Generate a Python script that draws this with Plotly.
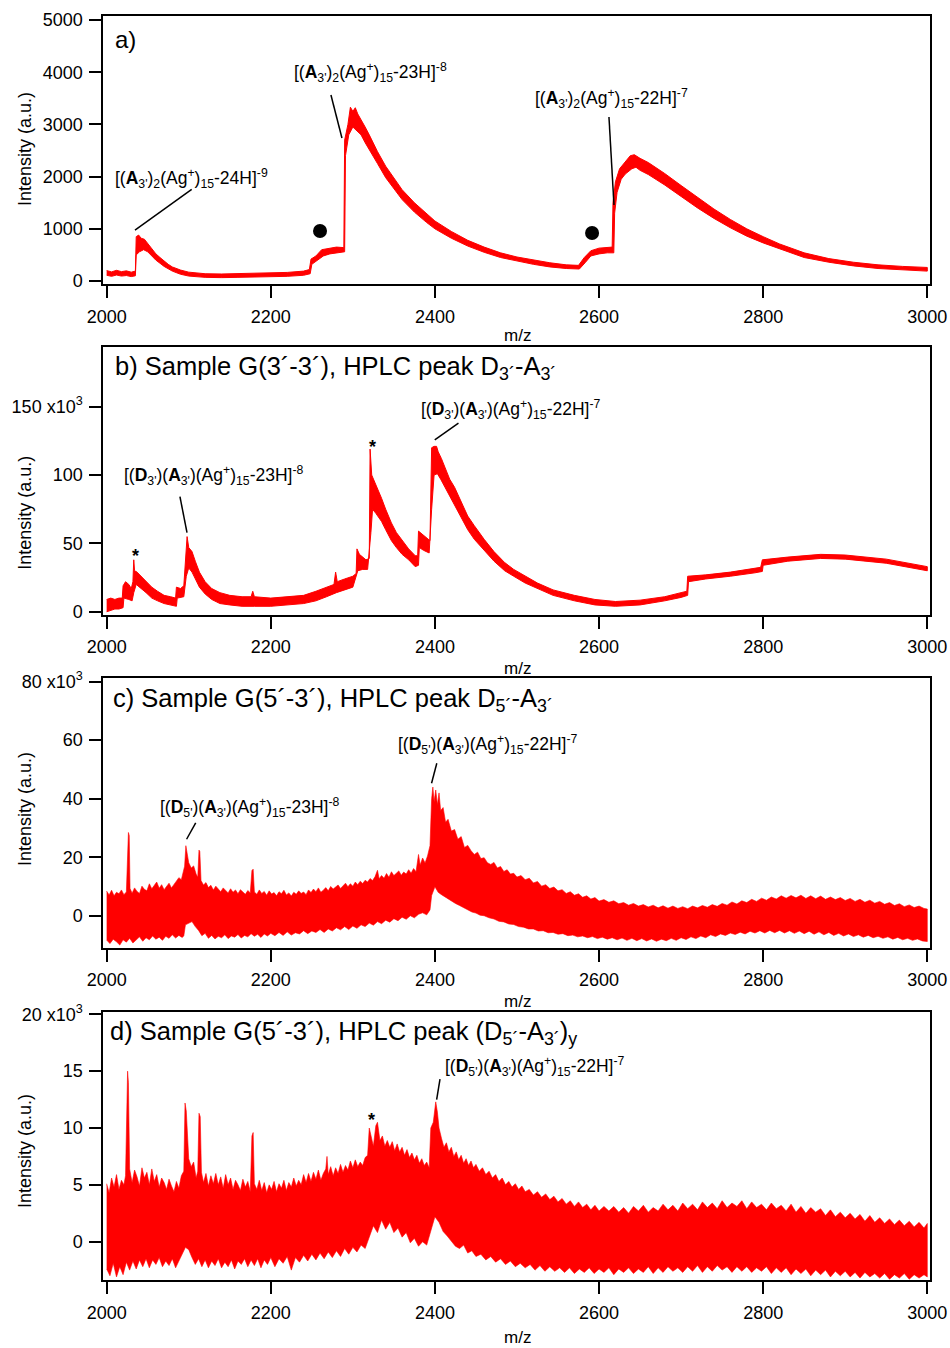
import plotly.graph_objects as go

W, H = 950, 1348
RED = "#ff0000"
FONT = "Liberation Sans, Arial, Helvetica, sans-serif"


def px_x(px):
    return px / W


def px_y(py):
    return 1 - py / H


# ---------------- data (envelopes of the red spectral traces) ----------------
# Panel a (counts)
a_hi_x = [2000, 2006, 2012, 2018, 2024, 2030, 2035, 2036, 2039, 2042, 2046, 2050, 2055, 2060, 2065, 2070, 2075, 2080,
          2090, 2100, 2120, 2140, 2160, 2180, 2200, 2220, 2240, 2247, 2249, 2255, 2262, 2270, 2280, 2289, 2290, 2294,
          2297, 2300, 2303, 2306, 2310, 2315, 2320, 2330, 2340, 2350, 2360, 2375, 2390, 2400, 2420, 2440, 2460, 2480,
          2500, 2520, 2540, 2560, 2575, 2582, 2590, 2600, 2610, 2616, 2617, 2620, 2625, 2630, 2638, 2643, 2650, 2660,
          2680, 2700, 2720, 2740, 2760, 2780, 2800, 2820, 2850, 2880, 2910, 2940, 2970, 3000]
a_hi_y = [200, 175, 205, 180, 195, 170, 190, 850, 880, 820, 800, 720, 620, 520, 450, 380, 320, 270,
          210, 170, 140, 135, 140, 145, 150, 165, 190, 220, 420, 480, 600, 620, 650, 640, 2700, 3000,
          3330, 3250, 3320, 3200, 3100, 2950, 2800, 2480, 2200, 1980, 1750, 1500, 1280, 1150, 950, 780, 650, 540,
          460, 400, 350, 310, 300, 450, 580, 630, 650, 650, 1500, 1900, 2150, 2250, 2400, 2420, 2350, 2270,
          2060, 1830, 1600, 1380, 1180, 1000, 850, 710, 540, 430, 360, 310, 280, 260]
a_lo_x = [2000, 2006, 2012, 2018, 2024, 2030, 2035, 2036, 2040, 2045, 2050, 2055, 2060, 2065, 2070, 2075, 2080, 2090,
          2100, 2120, 2140, 2160, 2180, 2200, 2220, 2240, 2248, 2250, 2256, 2264, 2272, 2282, 2290, 2291, 2295, 2300,
          2304, 2310, 2315, 2320, 2330, 2340, 2350, 2360, 2375, 2390, 2400, 2420, 2440, 2460, 2480, 2500, 2520, 2540,
          2560, 2576, 2583, 2590, 2600, 2610, 2618, 2619, 2622, 2627, 2632, 2640, 2645, 2650, 2660, 2680, 2700, 2720,
          2740, 2760, 2780, 2800, 2820, 2850, 2880, 2910, 2940, 2970, 3000]
a_lo_y = [110, 90, 115, 95, 105, 85, 100, 500, 560, 600, 560, 480, 400, 340, 280, 230, 190, 130,
          95, 70, 65, 70, 75, 80, 90, 110, 140, 320, 380, 480, 520, 540, 560, 2400, 2800, 2950,
          2900, 2800, 2650, 2500, 2250, 1980, 1780, 1560, 1320, 1120, 1000, 820, 670, 550, 450, 380, 320, 270,
          240, 230, 350, 480, 520, 540, 540, 1300, 1700, 1950, 2050, 2150, 2180, 2120, 2040, 1840, 1620, 1400,
          1200, 1020, 860, 730, 610, 450, 360, 290, 240, 210, 190]

# Panel b (x10^3)
b_hi_x = [2000, 2005, 2010, 2015, 2019, 2020, 2023, 2027, 2030, 2032, 2033, 2034, 2037, 2042, 2048, 2055, 2062, 2070,
          2078, 2084, 2085, 2090, 2094, 2096, 2098, 2100, 2104, 2108, 2113, 2120, 2128, 2138, 2150, 2165, 2176, 2178,
          2180, 2200, 2220, 2240, 2255, 2268, 2277, 2279, 2281, 2290, 2300, 2304, 2305, 2308, 2312, 2316, 2320, 2321,
          2323, 2326, 2330, 2335, 2340, 2347, 2353, 2360, 2368, 2376, 2379, 2380, 2384, 2389, 2394, 2396, 2399, 2402,
          2404, 2408, 2412, 2418, 2424, 2432, 2440, 2448, 2460, 2472, 2485, 2496, 2510, 2525, 2544, 2570, 2595, 2620,
          2650, 2680, 2700, 2707, 2708, 2730, 2760, 2790, 2797, 2799, 2830, 2870, 2900, 2950, 3000]
b_hi_y = [9, 10, 9, 10, 10, 19, 22, 20, 17, 22, 38, 30, 29, 26, 22, 18, 15, 12,
          11, 10, 18, 17, 19, 35, 55, 47, 44, 37, 29, 22, 17, 14, 12, 11, 11, 15,
          11, 10, 11, 12, 15, 18, 20, 29, 22, 24, 26, 28, 46, 42, 40, 38, 39, 119,
          100, 96, 90, 83, 75, 65, 58, 52, 46, 41, 41, 59, 57, 54, 52, 120, 121, 121,
          117, 112, 106, 97, 91, 80, 70, 63, 53, 44, 36, 31, 26, 21, 16, 12, 9, 7.5,
          8.5, 11, 14, 15, 26, 27, 29, 31.5, 32.5, 38, 40, 42, 41.5, 38.5, 33]
b_lo_x = [2000, 2005, 2010, 2015, 2020, 2021, 2027, 2031, 2033, 2036, 2042, 2048, 2055, 2062, 2070, 2078, 2085, 2086,
          2094, 2097, 2100, 2104, 2108, 2113, 2120, 2128, 2138, 2150, 2165, 2180, 2200, 2220, 2240, 2255, 2268, 2280,
          2290, 2300, 2306, 2312, 2318, 2322, 2324, 2328, 2335, 2340, 2347, 2353, 2360, 2368, 2376, 2380, 2381, 2386,
          2393, 2396, 2399, 2403, 2407, 2412, 2418, 2424, 2432, 2440, 2448, 2460, 2472, 2485, 2496, 2510, 2525, 2544,
          2570, 2595, 2620, 2650, 2680, 2700, 2708, 2709, 2730, 2760, 2790, 2799, 2800, 2830, 2870, 2900, 2950, 3000]
b_lo_y = [0, 1, 2, 2, 3, 10, 9, 8, 14, 20, 17, 14, 10, 8, 6, 5, 4, 10,
          11, 26, 32, 29, 24, 18, 13, 9, 6, 5, 4, 4, 4, 5, 6, 8, 11, 14,
          16, 18, 30, 31, 31, 58, 75, 72, 66, 60, 52, 47, 42, 38, 33, 34, 47, 45,
          43, 75, 100, 101, 97, 92, 85, 79, 69, 60, 53, 45, 37, 30, 26, 21, 17, 12,
          8, 5, 4, 5, 8, 10.5, 12, 22, 24, 26, 28.5, 29.5, 34, 37, 39, 38.5, 35.5, 30]

# Panel c (x10^3)
c_hi_x = [2000, 2003, 2006, 2009, 2012, 2015, 2018, 2021, 2024, 2025.5, 2026.5, 2027.5, 2028.5, 2031, 2034, 2037,
          2040, 2043, 2046, 2049, 2052, 2055, 2058, 2061, 2064, 2067, 2070, 2073, 2076, 2079, 2082, 2085, 2088, 2091,
          2093, 2095, 2096.5, 2098, 2100, 2103, 2106, 2109, 2111, 2112.5, 2113.5, 2115, 2118, 2121, 2124, 2127, 2130,
          2133, 2136, 2139, 2142, 2145, 2148, 2151, 2154, 2157, 2160, 2163, 2166, 2169, 2172, 2175, 2177, 2178.5,
          2180, 2183, 2186, 2189, 2192, 2195, 2198, 2201, 2204, 2207, 2210, 2213, 2216, 2219, 2222, 2225, 2228, 2231,
          2234, 2237, 2240, 2243, 2246, 2249, 2252, 2255, 2258, 2261, 2264, 2267, 2270, 2273, 2276, 2279, 2282, 2285,
          2288, 2291, 2294, 2297, 2300, 2303, 2306, 2309, 2312, 2315, 2318, 2321, 2324, 2327, 2330, 2332, 2335, 2338,
          2341, 2344, 2347, 2350, 2353, 2356, 2359, 2362, 2365, 2368, 2371, 2374, 2377, 2380, 2382, 2385, 2388, 2391,
          2394, 2396, 2397.5, 2399, 2401, 2403, 2405, 2407, 2410, 2413, 2416, 2420, 2424, 2428, 2432, 2436, 2440, 2444,
          2448, 2452, 2456, 2460, 2464, 2468, 2472, 2476, 2480, 2484, 2488, 2492, 2496, 2500, 2505, 2510, 2515, 2520,
          2525, 2530, 2535, 2540, 2545, 2550, 2555, 2560, 2565, 2570, 2575, 2580, 2585, 2590, 2595, 2600, 2606, 2612,
          2618, 2624, 2630, 2636, 2642, 2648, 2654, 2660, 2666, 2672, 2678, 2684, 2690, 2696, 2702, 2708, 2714, 2720,
          2726, 2732, 2738, 2744, 2750, 2756, 2762, 2768, 2774, 2780, 2786, 2792, 2798, 2804, 2810, 2816, 2822, 2828,
          2834, 2840, 2846, 2852, 2858, 2864, 2870, 2876, 2882, 2888, 2894, 2900, 2906, 2912, 2918, 2924, 2930, 2936,
          2942, 2948, 2954, 2960, 2966, 2972, 2978, 2984, 2990, 2996, 3000]
c_hi_y = [8.5, 7.2, 8.8, 6.9, 8.1, 7.6, 8.9, 7.3, 8.2, 27, 28.5, 27.5, 9.4, 7.8, 9.6, 8.4,
          7.7, 10.2, 9.1, 8.6, 11.0, 9.3, 10.4, 11.6, 9.5, 10.7, 9.0, 10.1, 11.2, 9.6, 10.8, 12.3, 13.1, 12.4,
          14.6, 17, 24, 22, 18.2, 16.4, 17.1, 14.3, 13.2, 22.5, 22, 12.1, 10.6, 11.4, 9.7, 10.5, 8.9,
          10.2, 9.1, 8.3, 9.6, 8.8, 7.9, 9.3, 8.1, 8.9, 7.6, 9.0, 8.2, 7.4, 8.7, 7.9, 15.5, 16,
          8.2, 7.4, 8.9, 7.7, 8.4, 7.1, 8.6, 7.5, 8.0, 6.9, 8.3, 7.6, 8.8, 7.2, 7.9, 6.8, 8.1, 7.4,
          8.6, 7.7, 8.2, 7.3, 8.9, 8.0, 9.2, 8.3, 9.6, 8.1, 8.8, 9.7, 8.6, 10.1, 9.2, 9.9, 10.6, 9.4,
          10.3, 11.2, 10.0, 11.0, 10.2, 11.6, 10.7, 11.9, 11.1, 12.2, 11.6, 12.8, 12.1, 13.4, 15.6, 12.7, 13.8, 12.9,
          14.5, 13.2, 15.1, 13.8, 14.6, 15.4, 13.9, 15.0, 14.3, 15.8, 14.6, 16.2, 15.1, 21, 17.4, 19.8, 18.1, 20.5,
          24, 40, 44, 39, 43, 38, 42, 36, 37, 32, 33, 29, 29.5, 26.2, 27.1, 23.4, 24.1, 22.3,
          21.0, 21.8, 19.6, 19.9, 18.2, 17.6, 18.3, 16.4, 16.9, 15.2, 15.8, 14.3, 14.6, 13.3, 13.8, 12.4, 12.9, 11.3,
          11.8, 10.2, 10.7, 9.4, 9.9, 8.6, 9.0, 7.7, 8.3, 7.1, 7.6, 6.4, 6.9, 5.8, 6.3, 5.1, 5.6, 4.7,
          5.2, 4.2, 4.6, 3.7, 4.3, 3.4, 3.9, 3.1, 3.7, 2.8, 3.5, 2.7, 3.4, 2.6, 3.2, 2.5, 3.4, 2.8,
          3.6, 3.0, 3.9, 3.3, 4.3, 3.7, 4.8, 4.1, 5.2, 4.6, 5.7, 5.0, 6.1, 5.4, 6.5, 5.8, 6.9, 6.1,
          7.0, 6.2, 7.1, 6.0, 6.9, 5.9, 6.8, 5.7, 6.5, 5.6, 6.3, 5.3, 6.0, 5.0, 5.7, 4.7, 5.4, 4.4,
          5.0, 4.0, 4.6, 3.6, 4.2, 3.2, 3.8, 2.9, 3.4, 2.6, 2.4]
c_lo_x = [2000, 2004, 2008, 2012, 2016, 2020, 2024, 2028, 2032, 2036, 2040, 2044, 2048, 2052, 2056, 2060, 2064, 2068,
          2072, 2076, 2080, 2084, 2088, 2092, 2094, 2096, 2100, 2104, 2108, 2112, 2116, 2120, 2124, 2128, 2132, 2136,
          2140, 2144, 2148, 2152, 2156, 2160, 2164, 2168, 2172, 2176, 2180, 2184, 2188, 2192, 2196, 2200, 2205, 2210,
          2215, 2220, 2225, 2230, 2235, 2240, 2245, 2250, 2255, 2260, 2265, 2270, 2275, 2280, 2285, 2290, 2295, 2300,
          2305, 2310, 2315, 2320, 2325, 2330, 2335, 2340, 2345, 2350, 2355, 2360, 2365, 2370, 2375, 2380, 2385, 2390,
          2394, 2396, 2400, 2404, 2408, 2412, 2416, 2420, 2425, 2430, 2435, 2440, 2445, 2450, 2455, 2460, 2466, 2472,
          2478, 2484, 2490, 2496, 2502, 2508, 2514, 2520, 2526, 2532, 2538, 2544, 2550, 2556, 2562, 2568, 2574, 2580,
          2586, 2592, 2598, 2604, 2610, 2616, 2622, 2628, 2634, 2640, 2646, 2652, 2658, 2664, 2670, 2676, 2682, 2688,
          2694, 2700, 2706, 2712, 2718, 2724, 2730, 2736, 2742, 2748, 2754, 2760, 2766, 2772, 2778, 2784, 2790, 2796,
          2802, 2808, 2814, 2820, 2826, 2832, 2838, 2844, 2850, 2856, 2862, 2868, 2874, 2880, 2886, 2892, 2898, 2904,
          2910, 2916, 2922, 2928, 2934, 2940, 2946, 2952, 2958, 2964, 2970, 2976, 2982, 2988, 2994, 3000]
c_lo_y = [-8.2, -9.4, -7.9, -8.8, -9.9, -8.1, -8.9, -7.6, -9.2, -8.0, -7.1, -8.6, -7.4, -8.1, -6.8, -7.9, -7.2, -8.3,
          -6.9, -7.6, -6.4, -7.5, -6.6, -7.3, -6.8, -3.0, -2.4, -1.9, -3.6, -4.9, -6.7, -5.9, -7.6, -6.6, -7.8, -6.9,
          -7.4, -6.4, -7.7, -6.8, -7.2, -6.3, -7.5, -6.6, -7.1, -6.0, -6.9, -6.2, -7.3, -6.1, -6.8, -5.9, -6.7, -5.6,
          -6.6, -5.4, -6.5, -5.7, -6.1, -5.0, -6.0, -5.1, -5.6, -4.6, -5.6, -4.4, -5.1, -4.0, -4.7, -3.6, -4.6, -3.4,
          -4.2, -3.0, -3.6, -2.4, -3.1, -1.9, -2.6, -1.4, -2.1, -0.9, -1.6, -0.4, -1.1, 0.1, -0.6, 0.6, 1.1, 0.4,
          2.1, 7, 10, 8.1, 7.3, 6.6, 5.8, 5.1, 4.3, 3.6, 2.9, 2.2, 1.4, 1.0, 0.3, 0.1, -0.6, -1.0,
          -1.8, -2.0, -2.7, -2.9, -3.6, -3.8, -4.4, -4.4, -5.1, -5.0, -5.7, -5.6, -6.2, -6.0, -6.7, -6.5, -7.1, -6.8,
          -7.4, -7.0, -7.7, -7.2, -7.9, -7.4, -8.1, -7.5, -8.3, -7.6, -8.4, -7.7, -8.5, -7.8, -8.6, -7.9, -8.4, -7.6,
          -8.3, -7.4, -8.0, -7.1, -7.7, -6.8, -7.4, -6.4, -7.0, -6.1, -6.6, -5.8, -6.3, -5.5, -6.1, -5.2, -5.8, -5.0,
          -5.8, -4.9, -5.7, -4.9, -5.8, -5.0, -5.9, -5.1, -6.0, -5.2, -6.2, -5.4, -6.4, -5.6, -6.6, -5.9, -6.8, -6.1,
          -7.0, -6.4, -7.2, -6.6, -7.4, -6.9, -7.6, -7.1, -7.9, -7.3, -8.1, -7.6, -8.3, -7.8, -8.5, -8.7]

# Panel d (x10^3)
d_hi_x = [2000, 2003, 2006, 2009, 2012, 2015, 2018, 2021, 2023, 2024.5, 2025.5, 2026.5, 2028, 2031, 2034, 2037, 2040,
          2043, 2046, 2049, 2052, 2055, 2058, 2061, 2064, 2067, 2070, 2073, 2076, 2079, 2082, 2085, 2088, 2091, 2094,
          2095.5, 2097, 2100, 2103, 2106, 2109, 2111, 2112.5, 2114, 2115.5, 2118, 2121, 2124, 2127, 2130, 2133, 2136,
          2139, 2142, 2145, 2148, 2151, 2154, 2157, 2160, 2163, 2166, 2169, 2172, 2175, 2177, 2178.5, 2180, 2183, 2186,
          2189, 2192, 2195, 2198, 2201, 2204, 2207, 2210, 2213, 2216, 2219, 2222, 2225, 2228, 2231, 2234, 2237, 2240,
          2243, 2246, 2249, 2252, 2255, 2258, 2261, 2264, 2267, 2268.5, 2270, 2273, 2276, 2279, 2282, 2285, 2288, 2291,
          2294, 2297, 2300, 2303, 2306, 2309, 2312, 2315, 2318, 2320, 2322, 2325, 2328, 2330, 2333, 2336, 2339, 2342,
          2345, 2348, 2351, 2354, 2357, 2360, 2363, 2366, 2369, 2372, 2375, 2378, 2381, 2384, 2387, 2390, 2393, 2395,
          2398, 2401, 2403, 2405, 2408, 2411, 2414, 2417, 2420, 2423, 2426, 2429, 2432, 2435, 2438, 2441, 2444, 2447,
          2450, 2454, 2458, 2462, 2466, 2470, 2474, 2478, 2482, 2486, 2490, 2494, 2498, 2502, 2506, 2510, 2515, 2520,
          2525, 2530, 2535, 2540, 2545, 2550, 2555, 2560, 2565, 2570, 2575, 2580, 2585, 2590, 2595, 2600, 2606, 2612,
          2618, 2624, 2630, 2636, 2642, 2648, 2654, 2660, 2666, 2672, 2678, 2684, 2690, 2696, 2702, 2708, 2714, 2720,
          2726, 2732, 2738, 2744, 2750, 2756, 2762, 2768, 2774, 2780, 2786, 2792, 2798, 2804, 2810, 2816, 2822, 2828,
          2834, 2840, 2846, 2852, 2858, 2864, 2870, 2876, 2882, 2888, 2894, 2900, 2906, 2912, 2918, 2924, 2930, 2936,
          2942, 2948, 2954, 2960, 2966, 2972, 2978, 2984, 2990, 2996, 3000]
d_hi_y = [5.1, 4.3, 5.6, 4.8, 5.9, 4.6, 5.4, 5.0, 5.8, 14.5, 15, 14, 6.4, 5.2, 6.3, 5.7, 4.9,
          6.5, 5.6, 6.1, 5.0, 6.4, 5.3, 5.9, 4.8, 5.6, 5.2, 4.6, 5.5, 4.9, 4.4, 5.3, 4.7, 5.8, 6.2,
          12.2, 11.5, 7.3, 6.6, 7.0, 5.6, 6.2, 11.3, 11, 6.1, 5.2, 6.0, 4.9, 5.8, 5.1, 6.0, 5.0,
          5.7, 4.7, 5.9, 5.0, 5.6, 4.6, 5.4, 5.0, 4.5, 5.5, 4.8, 5.3, 4.4, 9.3, 9.6, 5.1, 4.6, 5.4,
          4.5, 5.2, 4.3, 5.0, 4.6, 5.3, 4.4, 5.1, 4.7, 5.4, 4.5, 5.2, 4.8, 5.6, 4.9, 5.4, 5.0, 5.9,
          5.2, 6.0, 5.3, 6.1, 5.5, 6.3, 5.4, 6.0, 6.4, 7.5, 5.9, 6.6, 5.8, 6.5, 6.0, 6.8, 6.1, 6.7,
          6.3, 7.1, 6.5, 7.2, 6.6, 7.0, 6.7, 7.4, 7.6, 10.0, 9.3, 8.4, 10.2, 10.5, 8.9, 9.3, 8.4, 8.9,
          8.3, 8.8, 8.0, 8.6, 7.9, 8.3, 7.6, 8.1, 7.4, 7.8, 7.2, 7.6, 6.9, 7.3, 6.7, 7.0, 6.5, 10.0,
          10.5, 12.3, 11.4, 10.0, 9.1, 8.3, 8.7, 7.9, 8.3, 7.5, 7.9, 7.2, 7.6, 6.9, 7.3, 6.7, 7.1, 6.5,
          6.8, 6.2, 6.5, 5.9, 6.2, 5.6, 5.9, 5.3, 5.6, 5.0, 5.3, 4.8, 5.1, 4.6, 4.9, 4.4, 4.6, 4.1,
          4.4, 3.9, 4.2, 3.7, 4.0, 3.5, 3.8, 3.3, 3.6, 3.1, 3.5, 3.0, 3.3, 2.8, 3.2, 2.7, 3.1, 2.7,
          3.1, 2.6, 3.0, 2.5, 3.1, 2.7, 3.2, 2.6, 3.0, 2.7, 3.3, 2.8, 3.2, 2.7, 3.4, 2.9, 3.3, 2.8,
          3.5, 3.0, 3.4, 2.9, 3.6, 3.0, 3.4, 3.1, 3.6, 2.9, 3.5, 3.0, 3.3, 2.8, 3.4, 2.9, 3.2, 2.7,
          3.3, 2.6, 3.1, 2.5, 3.0, 2.6, 2.9, 2.3, 2.8, 2.2, 2.6, 2.1, 2.5, 2.0, 2.4, 1.8, 2.3, 1.7,
          2.1, 1.6, 2.0, 1.5, 1.9, 1.4, 1.8, 1.3, 1.7, 1.2, 1.6]
d_lo_x = [2000, 2004, 2008, 2012, 2016, 2020, 2024, 2028, 2032, 2036, 2040, 2044, 2048, 2052, 2056, 2060, 2064, 2068,
          2072, 2076, 2080, 2084, 2088, 2092, 2096, 2100, 2104, 2108, 2112, 2116, 2120, 2124, 2128, 2132, 2136, 2140,
          2144, 2148, 2152, 2156, 2160, 2164, 2168, 2172, 2176, 2180, 2184, 2188, 2192, 2196, 2200, 2205, 2210, 2215,
          2220, 2225, 2230, 2235, 2240, 2245, 2250, 2255, 2260, 2265, 2270, 2275, 2280, 2285, 2290, 2295, 2300, 2305,
          2310, 2315, 2320, 2325, 2330, 2335, 2340, 2345, 2350, 2355, 2360, 2365, 2370, 2375, 2380, 2385, 2390, 2395,
          2400, 2405, 2410, 2415, 2420, 2425, 2430, 2435, 2440, 2445, 2450, 2456, 2462, 2468, 2474, 2480, 2486, 2492,
          2498, 2504, 2510, 2516, 2522, 2528, 2534, 2540, 2546, 2552, 2558, 2564, 2570, 2576, 2582, 2588, 2594, 2600,
          2606, 2612, 2618, 2624, 2630, 2636, 2642, 2648, 2654, 2660, 2666, 2672, 2678, 2684, 2690, 2696, 2702, 2708,
          2714, 2720, 2726, 2732, 2738, 2744, 2750, 2756, 2762, 2768, 2774, 2780, 2786, 2792, 2798, 2804, 2810, 2816,
          2822, 2828, 2834, 2840, 2846, 2852, 2858, 2864, 2870, 2876, 2882, 2888, 2894, 2900, 2906, 2912, 2918, 2924,
          2930, 2936, 2942, 2948, 2954, 2960, 2966, 2972, 2978, 2984, 2990, 2996, 3000]
d_lo_y = [-2.4, -3.0, -1.9, -3.1, -2.2, -2.9, -1.8, -2.5, -1.7, -2.4, -1.6, -2.2, -1.5, -2.3, -1.6, -2.0, -1.4, -2.2,
          -1.7, -2.1, -1.5, -2.3, -1.6, -1.1, -0.5, -0.7, -1.4, -2.0, -1.5, -2.2, -1.6, -2.3, -1.7, -2.1, -1.5, -2.3,
          -1.8, -2.2, -1.6, -2.4, -1.7, -2.0, -1.5, -2.2, -1.6, -2.1, -1.5, -2.3, -1.6, -2.0, -1.4, -2.2, -1.5, -1.9,
          -1.3, -2.5, -1.4, -1.8, -1.2, -1.7, -1.1, -1.6, -1.0, -1.5, -0.9, -1.4, -0.8, -1.3, -0.6, -1.1, -0.5, -0.9,
          -0.3, -0.6, 0.3, 1.4, 0.8, 1.9, 1.1, 1.7, 0.8, 1.2, 0.4, 0.8, -0.1, 0.3, -0.4, 0.0, -0.3, 0.9,
          2.2, 1.7, 0.9, 0.5, 0.1, -0.4, -0.6, -0.3, -1.0, -0.8, -1.3, -1.1, -1.6, -1.3, -1.8, -1.5, -2.0, -1.7,
          -2.2, -1.9, -2.3, -2.0, -2.5, -2.1, -2.6, -2.2, -2.6, -2.3, -2.7, -2.3, -2.8, -2.4, -2.7, -2.3, -2.8, -2.4,
          -2.7, -2.3, -2.9, -2.4, -2.7, -2.3, -2.8, -2.4, -2.7, -2.2, -2.8, -2.3, -2.7, -2.2, -2.6, -2.3, -2.7, -2.2,
          -2.6, -2.1, -2.7, -2.2, -2.6, -2.1, -2.5, -2.2, -2.7, -2.2, -2.6, -2.2, -2.7, -2.3, -2.6, -2.2, -2.8, -2.3,
          -2.7, -2.3, -2.9, -2.4, -2.8, -2.4, -3.0, -2.5, -2.9, -2.5, -3.1, -2.6, -3.0, -2.6, -3.1, -2.7, -3.2, -2.7,
          -3.1, -2.8, -3.2, -2.8, -3.3, -2.9, -3.2, -2.8, -3.3, -2.9, -3.2, -2.9, -3.1]

# axes
x_ticks = [2000, 2200, 2400, 2600, 2800, 3000]
a_ticks = [0, 1000, 2000, 3000, 4000, 5000]
b_ticks = [0, 50, 100, 150]
c_ticks = [0, 20, 40, 60, 80]
d_ticks = [0, 5, 10, 15, 20]

# ---------------- layout geometry (pixels) ----------------
X_RANGE = [1995.9, 3003.3]
panels = [
    (16, 284, [-57, 5077], a_ticks, [str(v) for v in a_ticks], (a_hi_x, a_hi_y, a_lo_x, a_lo_y), 1.0),
    (346.7, 614.5, [-2.0, 193.9], b_ticks, ["0", "50", "100", "150 x10<sup>3</sup>"], (b_hi_x, b_hi_y, b_lo_x, b_lo_y), 1.0),
    (678.3, 947.7, [-10.8, 81.1], c_ticks, ["0", "20", "40", "60", "80 x10<sup>3</sup>"], (c_hi_x, c_hi_y, c_lo_x, c_lo_y), 0.6),
    (1011.7, 1280, [-3.37, 20.23], d_ticks, ["0", "5", "10", "15", "20 x10<sup>3</sup>"], (d_hi_x, d_hi_y, d_lo_x, d_lo_y), 0.6),
]

fig = go.Figure()
layout = dict(template="none", width=W, height=H, margin=dict(l=0, r=0, t=0, b=0, autoexpand=False),
              paper_bgcolor="white", plot_bgcolor="white",
              showlegend=False, font=dict(family=FONT, color="black"))

axis_common = dict(showline=True, linecolor="black", linewidth=2, mirror=True, ticks="outside", ticklen=12,
                   tickwidth=2, tickcolor="black", showgrid=False, zeroline=False, automargin=False,
                   tickfont=dict(family=FONT, size=18, color="black"))

for i, (top, bot, yr, tv, tt, data, lw) in enumerate(panels, start=1):
    sfx = "" if i == 1 else str(i)
    layout["xaxis" + sfx] = dict(axis_common, domain=[px_x(103.3), px_x(930)], range=X_RANGE, anchor="y" + sfx,
                                 tickmode="array", tickvals=x_ticks, ticktext=[str(v) for v in x_ticks],
                                 ticklabelstandoff=3)
    layout["yaxis" + sfx] = dict(axis_common, domain=[px_y(bot), px_y(top)], range=yr, anchor="x" + sfx,
                                 tickmode="array", tickvals=tv, ticktext=tt, ticklabelstandoff=3)
    hx, hy, lx, ly = data
    fig.add_trace(go.Scatter(x=hx + lx[::-1], y=hy + ly[::-1], mode="lines", fill="toself", fillcolor=RED,
                             line=dict(color=RED, width=lw), hoverinfo="skip",
                             xaxis="x" + sfx, yaxis="y" + sfx))

# black dots in panel a
dot_x = [2260, 2591.5]
dot_y = [958, 920]
fig.add_trace(go.Scatter(x=dot_x, y=dot_y, mode="markers", marker=dict(color="black", size=14),
                         hoverinfo="skip", xaxis="x", yaxis="y"))

fig.update_layout(**layout)

ann = []
for yc in [149, 512.7, 809, 1151]:
    ann.append(dict(xref="paper", yref="paper", x=px_x(25), y=px_y(yc), text="Intensity (a.u.)", textangle=-90,
                    showarrow=False, font=dict(size=18, family=FONT), xanchor="center", yanchor="middle"))
for yc in [335, 668, 1001, 1337]:
    ann.append(dict(xref="paper", yref="paper", x=px_x(517), y=px_y(yc), text="m/z", showarrow=False,
                    font=dict(size=17, family=FONT), xanchor="center", yanchor="middle"))

A3 = "<b>A</b><sub>3'</sub>"
D3 = "<b>D</b><sub>3'</sub>"
D5 = "<b>D</b><sub>5'</sub>"
AG = "(Ag<sup>+</sup>)<sub>15</sub>"

labels = [
    ("", 2007.7, 4636, "a)", 24),
    ("", 2007.7, 1973, "[(" + A3 + ")<sub>2</sub>" + AG + "-24H]<sup>-9</sup>", 17.5),
    ("", 2225.8, 3985, "[(" + A3 + ")<sub>2</sub>" + AG + "-23H]<sup>-8</sup>", 17.5),
    ("", 2519.5, 3487, "[(" + A3 + ")<sub>2</sub>" + AG + "-22H]<sup>-7</sup>", 17.5),
    ("2", 2007.7, 178.3, "b) Sample G(3´-3´), HPLC peak D<sub>3´</sub>-A<sub>3´</sub>", 25.5),
    ("2", 2018.6, 99.5, "[(" + D3 + ")(" + A3 + ")" + AG + "-23H]<sup>-8</sup>", 17.5),
    ("2", 2380.6, 147.7, "[(" + D3 + ")(" + A3 + ")" + AG + "-22H]<sup>-7</sup>", 17.5),
    ("3", 2005.2, 73.7, "c) Sample G(5´-3´), HPLC peak D<sub>5´</sub>-A<sub>3´</sub>", 25.5),
    ("3", 2062.5, 36.9, "[(" + D5 + ")(" + A3 + ")" + AG + "-23H]<sup>-8</sup>", 17.5),
    ("3", 2352.6, 58.4, "[(" + D5 + ")(" + A3 + ")" + AG + "-22H]<sup>-7</sup>", 17.5),
    ("4", 2001.6, 18.36, "d) Sample G(5´-3´), HPLC peak (D<sub>5´</sub>-A<sub>3´</sub>)<sub>y</sub>", 25.5),
    ("4", 2409.8, 15.45, "[(" + D5 + ")(" + A3 + ")" + AG + "-22H]<sup>-7</sup>", 17.5),
]
for sfx, x, y, t, s in labels:
    ann.append(dict(xref="x" + sfx, yref="y" + sfx, x=x, y=y, text=t, showarrow=False, xanchor="left",
                    yanchor="middle", font=dict(size=s, family=FONT)))

stars = [("2", 2035.7, 41.0), ("2", 2324.2, 120.8), ("4", 2322.6, 10.7)]
for sfx, x, y in stars:
    ann.append(dict(xref="x" + sfx, yref="y" + sfx, x=x, y=y, text="<b>*</b>", showarrow=False,
                    xanchor="center", yanchor="middle", font=dict(size=18, family=FONT)))

leaders = [
    ("", 2034.5, 977, 2103.6, 1757),
    ("", 2286.7, 2739, 2273.3, 3563),
    ("", 2618.2, 1456, 2612.1, 3142),
    ("2", 2097.9, 57.9, 2089.3, 84.2),
    ("2", 2399.8, 125.8, 2428.7, 138.0),
    ("3", 2097.4, 26.2, 2108.5, 31.8),
    ("3", 2395.9, 45.3, 2402.3, 52.1),
    ("4", 2402.1, 12.5, 2406.2, 14.3),
]
shapes = []
for sfx, x0, y0, x1, y1 in leaders:
    shapes.append(dict(type="line", xref="x" + sfx, yref="y" + sfx, x0=x0, y0=y0, x1=x1, y1=y1,
                       line=dict(color="black", width=1.5)))

fig.update_layout(annotations=ann, shapes=shapes)
# remove the default 8px page margin so the 950x1348 figure fills the window exactly
fig.write_html("out.html", config={"displayModeBar": False, "staticPlot": True},
               post_script="document.body.style.margin='0px';document.body.style.overflow='hidden';")
